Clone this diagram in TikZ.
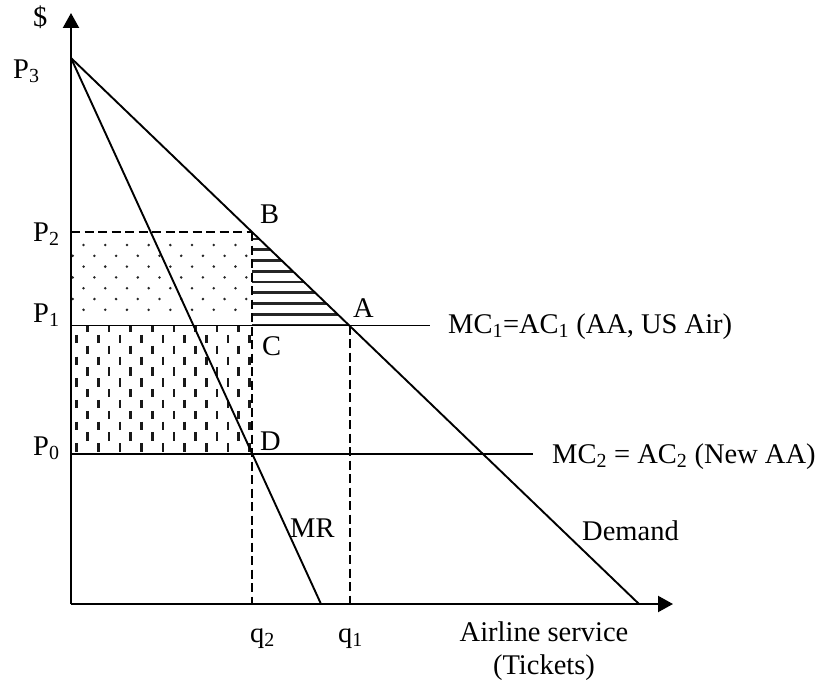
\documentclass[tikz,border=0pt]{standalone}
\usepackage{fontspec}
\setmainfont{Liberation Serif}
\usetikzlibrary{arrows.meta}
\begin{document}
\begin{tikzpicture}[x=1pt,y=-1pt,
  lbl/.style={font=\fontsize{28.5}{32}\selectfont, inner sep=0pt, anchor=base west},
  lblc/.style={font=\fontsize{28.5}{32}\selectfont, inner sep=0pt, anchor=base},
  axisln/.style={line width=2.1pt, -{Triangle[length=15pt,width=16pt]}},
  curveln/.style={line width=1.9pt},
  dashln/.style={line width=1.9pt, dash pattern=on 9pt off 4.5pt},
  dotfill/.style={fill=black!85},
  vdash/.style={line width=2.6pt, black!90},
  hstripe/.style={line width=2.8pt, black!85},
]
\useasboundingbox (0,0) rectangle (824,685);

% key points
\coordinate (O) at (71,604);
\coordinate (Ytop) at (71,13);
\coordinate (Xtip) at (673,604);
\coordinate (P3) at (71,58);
\coordinate (Dq) at (639,604);
\coordinate (MRq) at (321,604);
\coordinate (B) at (252,232);
\coordinate (P2p) at (71,232);
\coordinate (A) at (350,325.5);
\coordinate (C) at (252,325.5);
\coordinate (D) at (252,454);
\coordinate (P1p) at (71,325.5);
\coordinate (P0p) at (71,454);
\coordinate (q1b) at (350,604);
\coordinate (q2b) at (252,604);
\coordinate (MC1e) at (430,325.5);
\coordinate (MC2e) at (533,454);

% dotted rectangle
\begin{scope}
  \clip (P2p) rectangle (C);
  \foreach \j [evaluate=\j as \yy using {245+\j*10.8},
               evaluate=\j as \xo using {72.7+(1-mod(\j,2))*10.85}] in {0,...,6} {
    \foreach \i in {0,...,8} {
      \fill[dotfill] ({\xo+\i*21.7},\yy) circle (1.4pt);
    }
  }
\end{scope}

% vertical dashes rectangle
\begin{scope}
  \clip (P1p) rectangle (D);
  \foreach \k [evaluate=\k as \xx using {76.7+\k*10.8},
               evaluate=\k as \yo using {339-mod(\k,2)*10.85}] in {0,...,16} {
    \foreach \m in {0,...,6} {
      \draw[vdash] (\xx,{\yo+\m*21.7-4.2}) -- (\xx,{\yo+\m*21.7+4.2});
    }
  }
\end{scope}

% horizontal stripes triangle
\begin{scope}
  \clip (B) -- (C) -- (A) -- cycle;
  \foreach \n [evaluate=\n as \yy using {239+\n*10.75}] in {0,...,8} {
    \draw[hstripe] (240,\yy) -- (360,\yy);
  }
\end{scope}

% curves
\draw[curveln] (P3) -- (Dq);
\draw[curveln] (P3) -- (MRq);
\draw[curveln] (P1p) -- (MC1e);
\draw[curveln] (P0p) -- (MC2e);
\draw[dashln] (P2p) -- (B);
\draw[dashln] (B) -- (q2b);
\draw[dashln] (A) -- (q1b);

% axes
\draw[axisln] (O) -- (Ytop);
\draw[axisln] (O) -- (Xtip);

% labels
\node[lbl] (ldollar) at (33,27) {\$};
\node[lbl] (lP3) at (13,78) {P\textsubscript{3}};
\node[lbl] (lP2) at (33,241) {P\textsubscript{2}};
\node[lbl] (lP1) at (33,322) {P\textsubscript{1}};
\node[lbl] (lP0) at (33,455) {P\textsubscript{0}};
\node[lbl] (lB) at (260,223) {B};
\node[lbl] (lA) at (353,317) {A};
\node[lbl] (lC) at (262,355) {C};
\node[lbl] (lD) at (260,450) {D};
\node[lbl] (lMR) at (290,537) {MR};
\node[lbl] (lDem) at (582,540) {Demand};
\node[lbl] (lMC1) at (448,333) {MC\textsubscript{1}=AC\textsubscript{1} (AA, US Air)};
\node[lbl] (lMC2) at (552,463) {MC\textsubscript{2} = AC\textsubscript{2} (New AA)};
\node[lbl] (lq2) at (250,642) {q\textsubscript{2}};
\node[lbl] (lq1) at (338,642) {q\textsubscript{1}};
\node[lblc] (lair) at (544,641) {Airline service};
\node[lblc] (ltix) at (544,674) {(Tickets)};
\end{tikzpicture}
\end{document}
